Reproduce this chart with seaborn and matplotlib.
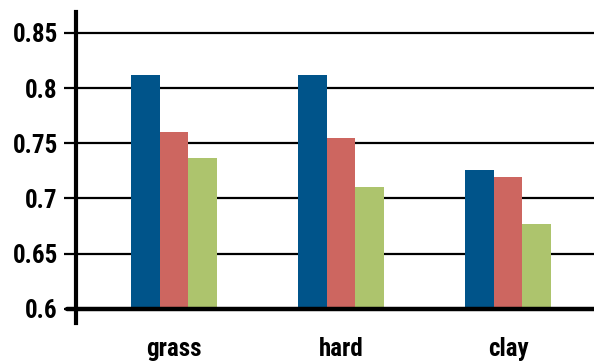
import matplotlib
matplotlib.use("Agg")
import matplotlib.pyplot as plt
import seaborn as sns
import pandas as pd
from matplotlib import font_manager

categories = ["grass", "hard", "clay"]
series_names = ["A", "B", "C"]
series_a = [0.812, 0.812, 0.726]
series_b = [0.760, 0.755, 0.719]
series_c = [0.737, 0.710, 0.677]
y_ticks = [0.6, 0.65, 0.7, 0.75, 0.8, 0.85]
y_tick_labels = ["0.6", "0.65", "0.7", "0.75", "0.8", "0.85"]
colors = ["#00548A", "#CD6660", "#ADC46D"]
baseline = 0.6

sns.set_theme(style="white")
names = {f.name for f in font_manager.fontManager.ttflist}
fam = "DejaVu Sans"
for cand in ["Liberation Sans Narrow", "Roboto Condensed", "DejaVu Sans Condensed", "Roboto"]:
    if cand in names:
        fam = cand
        break
plt.rcParams["font.family"] = [fam, "DejaVu Sans"]

rows = []
for s, vals in zip(series_names, [series_a, series_b, series_c]):
    for c, v in zip(categories, vals):
        rows.append({"cat": c, "series": s, "val": v})
df = pd.DataFrame(rows)

fig = plt.figure(figsize=(5.97, 3.63), dpi=100)
ax = fig.add_axes([76 / 597, 1 - 323 / 363, (594 - 76) / 597, (323 - 12) / 363])
sns.barplot(data=df, x="cat", y="val", hue="series", palette=colors,
            width=0.515, gap=0, saturation=1, legend=False, ax=ax, zorder=3)
for p in ax.patches:
    p.set_linewidth(0)
    top = p.get_y() + p.get_height()
    p.set_y(baseline)
    p.set_height(top - baseline)

ax.set_ylim(0.587, 0.869)
ax.set_xlim(-0.587, 2.515)
ax.set_yticks(y_ticks)
ax.set_yticklabels(y_tick_labels)
for y in y_ticks[1:]:
    ax.axhline(y, color="black", lw=1.6, zorder=1)
ax.axhline(baseline, color="black", lw=3.2, zorder=4)
ax.plot([-0.64, -0.587], [baseline, baseline], color="black", lw=3.2, clip_on=False, zorder=4)

for side in ["top", "right", "bottom"]:
    ax.spines[side].set_visible(False)
ax.spines["left"].set_linewidth(3)
ax.spines["left"].set_color("black")
ax.tick_params(axis="y", direction="out", length=9, width=1.6, color="black",
               left=True, labelsize=18, pad=4)
ax.tick_params(axis="x", length=0, labelsize=18, pad=10)
for lab in ax.get_yticklabels() + ax.get_xticklabels():
    lab.set_fontweight("bold")
    lab.set_color("black")
ax.set_xlabel("")
ax.set_ylabel("")

fig.savefig("out.png", dpi=100)
